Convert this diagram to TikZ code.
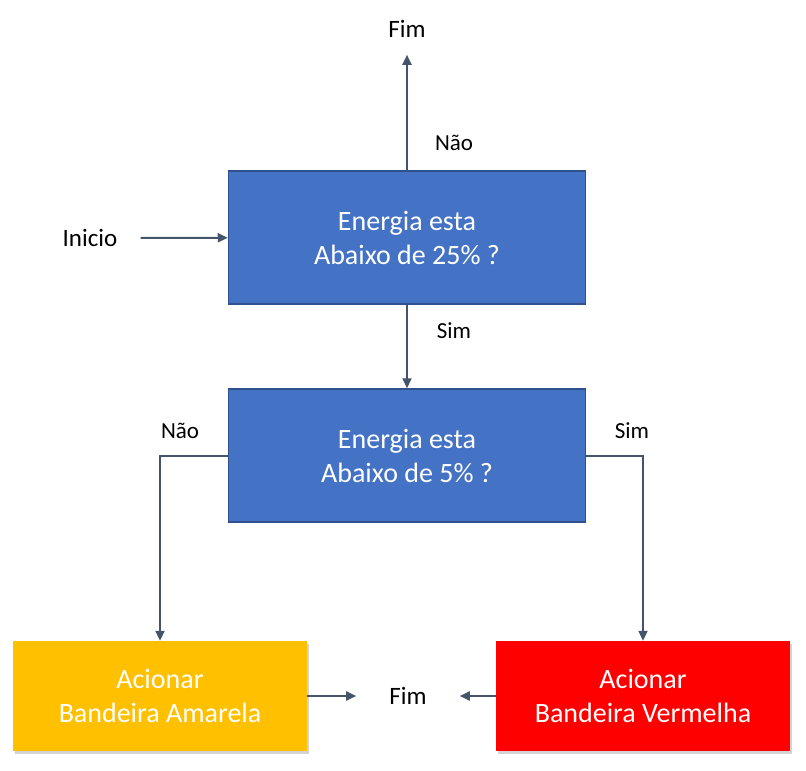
\documentclass[tikz,border=0pt]{standalone}
\usepackage{fontspec}
\setmainfont{Carlito}
\usetikzlibrary{arrows.meta,shadows}

\definecolor{caixaazul}{HTML}{4472C4}
\definecolor{bordaazul}{HTML}{2F528F}
\definecolor{amarelo}{HTML}{FFC000}
\definecolor{vermelho}{HTML}{FF0000}
\definecolor{linha}{HTML}{44546A}

\tikzset{seta/.style={draw=linha,line width=2pt,-{Triangle[length=10pt,width=9pt]}}}

\begin{document}
\begin{tikzpicture}[x=1pt,y=-1pt]

      \useasboundingbox (0,0) rectangle (806,771);

      \begin{scope}[every node/.style={rectangle,draw=bordaazul,line width=1.5pt,fill=caixaazul,text=white,align=center,
          minimum width=357pt,minimum height=133pt,font=\fontsize{28}{34}\selectfont}]
        \node (e25) at (407,237.5) {Energia esta\\Abaixo de 25\% ?};
        \node (e5)  at (407,455.5) {Energia esta\\Abaixo de 5\% ?};
      \end{scope}

      \begin{scope}[every node/.style={rectangle,text=white,align=center,minimum width=294pt,minimum height=110pt,
          drop shadow={shadow xshift=2pt,shadow yshift=-3pt,opacity=0.35},font=\fontsize{28}{34}\selectfont}]
        \node[fill=amarelo]  (amarela)  at (160,696) {Acionar\\Bandeira Amarela};
        \node[fill=vermelho] (vermelha) at (643,696) {Acionar\\Bandeira Vermelha};
      \end{scope}

      \begin{scope}[every node/.style={inner sep=2pt,font=\fontsize{25}{30}\selectfont}]
        \node (inicio) at (90,238) {Inicio};
        \node (fim1)   at (407,29) {Fim};
        \node (fim2)   at (408,696) {Fim};
      \end{scope}

      \begin{scope}[every node/.style={inner sep=2pt,font=\fontsize{23}{28}\selectfont}]
        \node (nao1) at (454,143) {Não};
        \node (sim1) at (454,331) {Sim};
        \node (nao2) at (180,431) {Não};
        \node (sim2) at (632,431) {Sim};
      \end{scope}

      \begin{scope}[every edge/.style={seta}]
        \path (inicio)     edge[shorten <=21pt] (e25);
        \path (e25.north)  edge[shorten >=15pt] (fim1);
        \path (e25.south)  edge (e5.north);
        \path (amarela)    edge[shorten >=31pt] (fim2);
        \path (vermelha)   edge[shorten >=31pt] (fim2);
      \end{scope}
      \draw[seta] (e5.west) -| (amarela.north);
      \draw[seta] (e5.east) -| (vermelha.north);

    \end{tikzpicture}
\end{document}
